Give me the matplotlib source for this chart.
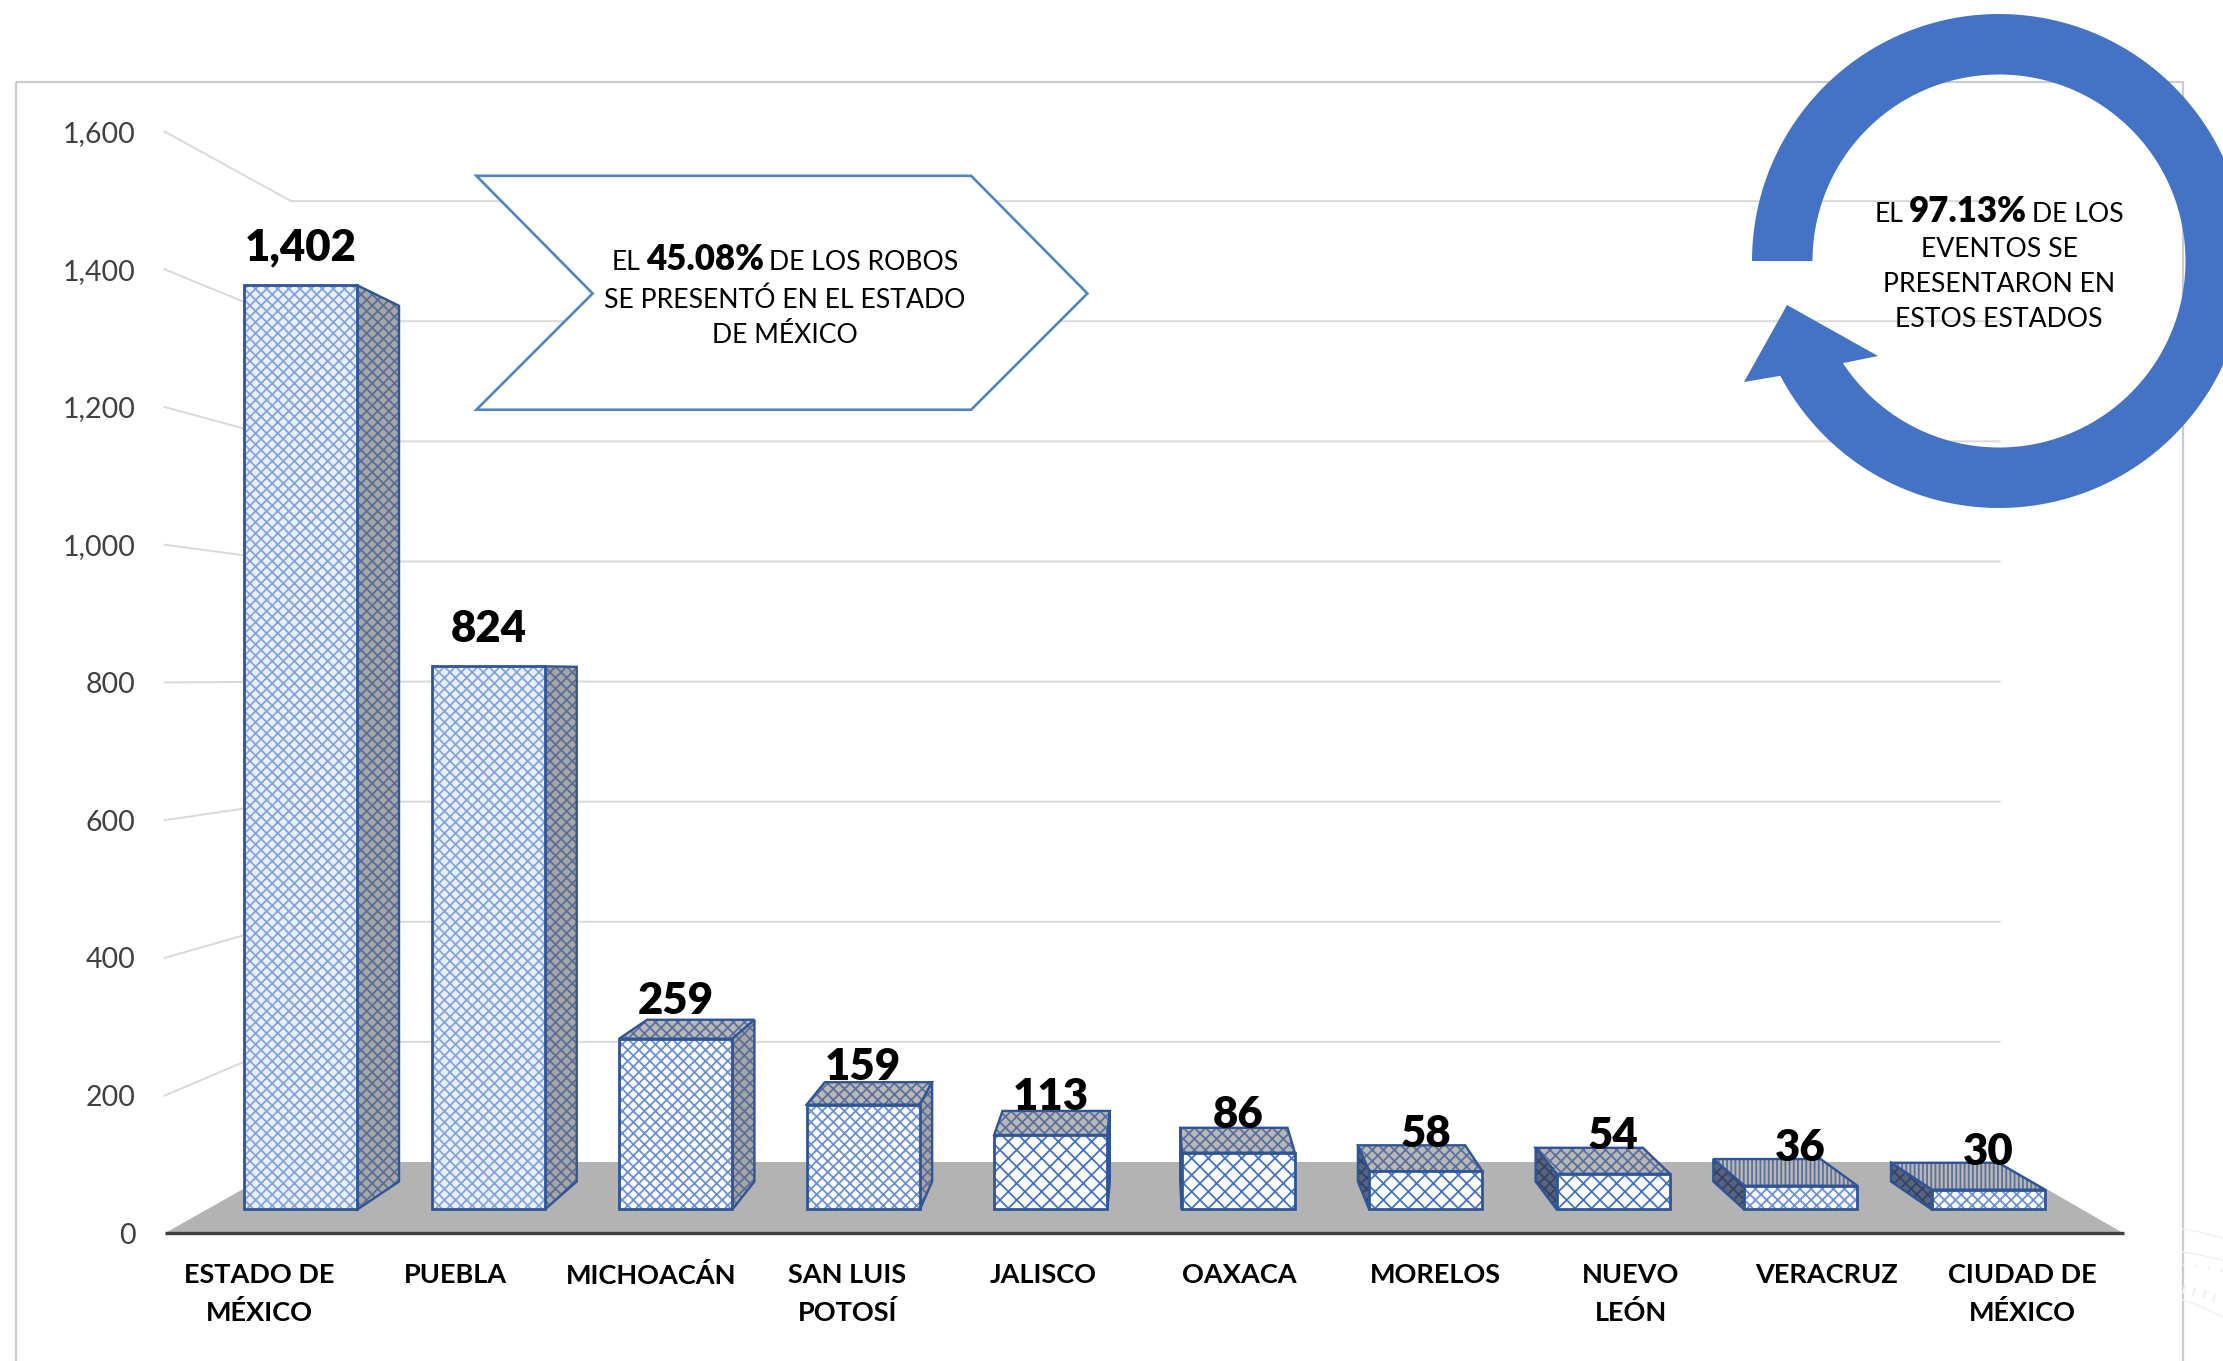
import numpy as np
import matplotlib
matplotlib.use("Agg")
import matplotlib.pyplot as plt
from matplotlib.patches import Polygon, Rectangle

estados = ["ESTADO DE\nMÉXICO", "PUEBLA", "MICHOACÁN", "SAN LUIS\nPOTOSÍ", "JALISCO",
           "OAXACA", "MORELOS", "NUEVO\nLEÓN", "VERACRUZ", "CIUDAD DE\nMÉXICO"]
robos = [1402, 824, 259, 159, 113, 86, 58, 54, 36, 30]
etiquetas = ["1,402", "824", "259", "159", "113", "86", "58", "54", "36", "30"]
y_ticks = [0, 200, 400, 600, 800, 1000, 1200, 1400, 1600]

W, H = 2223, 1361
plt.rcParams["font.family"] = ["Lato", "DejaVu Sans"]
plt.rcParams["hatch.linewidth"] = 1.3

fig = plt.figure(figsize=(W / 100, H / 100), dpi=100, facecolor="white")

# capa de fondo, en pixeles: el marco gris y la marca de agua
bg = fig.add_axes([0, 0, 1, 1], zorder=0)
bg.set_xlim(0, W)
bg.set_ylim(H, 0)
bg.axis("off")
bg.add_patch(Rectangle((16, 82), 2167, 1400, fill=False, edgecolor="#cbcbcb", linewidth=1.6))
bg.plot([2183, 2200, 2223], [1229, 1232, 1238], color="#f0f0f0", lw=1)
bg.plot([2183, 2200, 2223], [1252, 1255, 1260], color="#f0f0f0", lw=1)
bg.plot([2183, 2200, 2223], [1300, 1306, 1317], color="#f0f0f0", lw=1)
bg.plot([2183, 2200, 2223], [1265, 1267, 1271], color="#f0f0f0", lw=1.5, ls=(0, (1, 5)))
bg.plot([2183, 2200, 2223], [1289, 1293, 1300], color="#f0f0f0", lw=6, ls=(0, (0.25, 1)))

# ejes del grafico: plano frontal de las paredes
x0, x1, y0, y1 = 164.5, 2123.7, 1233.4, 131.5
ax = fig.add_axes([x0 / W, 1 - y0 / H, (x1 - x0) / W, (y0 - y1) / H], zorder=1)
ax.patch.set_alpha(0)
ax.set_xlim(-0.5, 9.5)
ax.set_ylim(0, 1600)
for s in ax.spines.values():
    s.set_visible(False)

# perspectiva: todo se proyecta hacia un punto de fuga
VX, VY = 4.55, 810
K_PARED = 0.872
K_FRENTE = 0.957
K_FONDO = 0.907


def proy(x, v, k):
    return VX + (x - VX) * k, VY + (v - VY) * k


# paredes
for v in y_ticks[1:]:
    a = proy(-0.5, v, K_PARED)
    b = proy(9.5, v, K_PARED)
    ax.plot([-0.5, a[0], b[0]], [v, a[1], b[1]], color="#d9d9d9", lw=1.4, clip_on=False, zorder=1)

# piso
piso = [(-0.5, 0), (9.5, 0), proy(9.5, 0, K_PARED), proy(-0.5, 0, K_PARED)]
ax.add_patch(Polygon(piso, closed=True, facecolor="#b3b3b3", edgecolor="none", clip_on=False, zorder=2))
ax.plot([-0.5, 9.5], [0, 0], color="#404040", lw=2.4, clip_on=False, zorder=3, solid_capstyle="butt")

ANCHO = 0.302
AZUL = "#2f5597"


def cara(puntos, face, trama, z, color_trama):
    ax.add_patch(Polygon(puntos, closed=True, facecolor=face, edgecolor=color_trama, hatch=trama,
                         linewidth=0, clip_on=False, zorder=z))
    ax.add_patch(Polygon(puntos, closed=True, fill=False, edgecolor=AZUL, linewidth=1.7,
                         clip_on=False, zorder=z + 0.01))


for i, v in enumerate(robos):
    xl, xr = i - ANCHO, i + ANCHO
    z = 4 + i
    fl0, fl1 = proy(xl, 0, K_FRENTE), proy(xl, v, K_FRENTE)
    fr0, fr1 = proy(xr, 0, K_FRENTE), proy(xr, v, K_FRENTE)
    bl0, bl1 = proy(xl, 0, K_FONDO), proy(xl, v, K_FONDO)
    br0, br1 = proy(xr, 0, K_FONDO), proy(xr, v, K_FONDO)
    # tapa superior solo cuando queda bajo el punto de fuga
    if bl1[1] > fl1[1]:
        cara([fl1, fr1, br1, bl1], "#b8b8b8", "||||" if i >= 8 else "xxx", z, "#5d7099")
    if br0[0] > fr0[0]:
        cara([fr0, br0, br1, fr1], "#a6a6a6", "xxx", z + 0.1, "#5b6e96")
    if bl0[0] < fl0[0]:
        cara([fl0, bl0, bl1, fl1], "#59647c", "xxx", z + 0.1, "#2f4468")
    if i < 2:
        trama, color_trama, fondo = "xxx", "#84a4df", "#eaf0fb"
    elif i < 4 or i >= 8:
        trama, color_trama, fondo = "xxx", "#6a90d5", "#ffffff"
    else:
        trama, color_trama, fondo = "xx", "#4472c4", "#ffffff"
    ax.bar(fl0[0] + (fr0[0] - fl0[0]) / 2, fl1[1] - fl0[1], width=fr0[0] - fl0[0], bottom=fl0[1],
           color=fondo, edgecolor=color_trama, hatch=trama, linewidth=0, clip_on=False, zorder=z + 0.2)
    ax.bar(fl0[0] + (fr0[0] - fl0[0]) / 2, fl1[1] - fl0[1], width=fr0[0] - fl0[0], bottom=fl0[1],
           fill=False, edgecolor=AZUL, linewidth=2.0, clip_on=False, zorder=z + 0.3)
    ax.annotate(etiquetas[i], ((fl1[0] + fr1[0]) / 2, fl1[1]), xytext=(0, 27), textcoords="offset points",
                ha="center", va="center", fontsize=31.5, fontweight="heavy", color="black",
                annotation_clip=False, zorder=30)

ax.set_yticks(y_ticks)
ax.set_yticklabels([f"{t:,}" for t in y_ticks], fontsize=20.5, color="#404040")
ax.set_xticks(np.arange(len(estados)) - 0.015)
ax.set_xticklabels(estados, fontsize=19.5, fontweight="bold", color="black", linespacing=1.62)
ax.tick_params(axis="y", length=0, pad=21)
ax.tick_params(axis="x", length=0, pad=21)

# capa de frente, en pixeles: flecha y flecha circular con sus textos
fg = fig.add_axes([0, 0, 1, 1], zorder=2)
fg.patch.set_alpha(0)
fg.set_xlim(0, W)
fg.set_ylim(H, 0)
fg.axis("off")

chevron = np.array([(336, 124), (685, 124), (767, 207), (685, 289), (336, 289), (418, 207)]) * W / 1568
fg.add_patch(Polygon(chevron, closed=True, facecolor="white", edgecolor="#4f86bd", linewidth=1.9))

cx, cy, r_ext, r_int = 1999, 261, 247, 186.5
t_ext = np.radians(np.linspace(180, 360 + 152.3, 200))
t_int = np.radians(np.linspace(360 + 146.8, 180, 200))
# angulos medidos en pantalla, y hacia abajo: el arco va de izquierda por arriba hasta abajo a la izquierda
arco_ext = np.c_[cx + r_ext * np.cos(t_ext), cy + r_ext * np.sin(t_ext)]
arco_int = np.c_[cx + r_int * np.cos(t_int), cy + r_int * np.sin(t_int)]
punta = np.array([(1744, 382), (1787, 305), (1878, 356)])
flecha = np.vstack([arco_ext, punta, arco_int])
fg.add_patch(Polygon(flecha, closed=True, facecolor="#4472c4", edgecolor="none"))

renderer = fig.canvas.get_renderer()


def linea(xc, y, partes, size, size_b):
    # linea centrada con tramos normales y en negrita
    textos = []
    for s, negrita in partes:
        t = fg.text(0, y, s, fontsize=size_b if negrita else size, fontweight="heavy" if negrita else "normal",
                    color="black", va="baseline", ha="left", zorder=10)
        textos.append(t)
    anchos = [t.get_window_extent(renderer).width for t in textos]
    espacio = size * 0.27
    total = sum(anchos) + espacio * (len(textos) - 1)
    x = xc - total / 2
    for t, a in zip(textos, anchos):
        t.set_x(x)
        x += a + espacio


xt = 785
linea(xt, 270, [("EL", False), ("45.08%", True), ("DE LOS ROBOS", False)], 19.2, 25)
linea(xt, 308, [("SE PRESENTÓ EN EL ESTADO", False)], 19.2, 25)
linea(xt, 343, [("DE MÉXICO", False)], 19.2, 25)

xt = 1999
linea(xt, 222, [("EL", False), ("97.13%", True), ("DE LOS", False)], 19.2, 25)
linea(xt, 257, [("EVENTOS SE", False)], 19.2, 25)
linea(xt, 292, [("PRESENTARON EN", False)], 19.2, 25)
linea(xt, 327, [("ESTOS ESTADOS", False)], 19.2, 25)

fig.savefig("out.png", dpi=100)
